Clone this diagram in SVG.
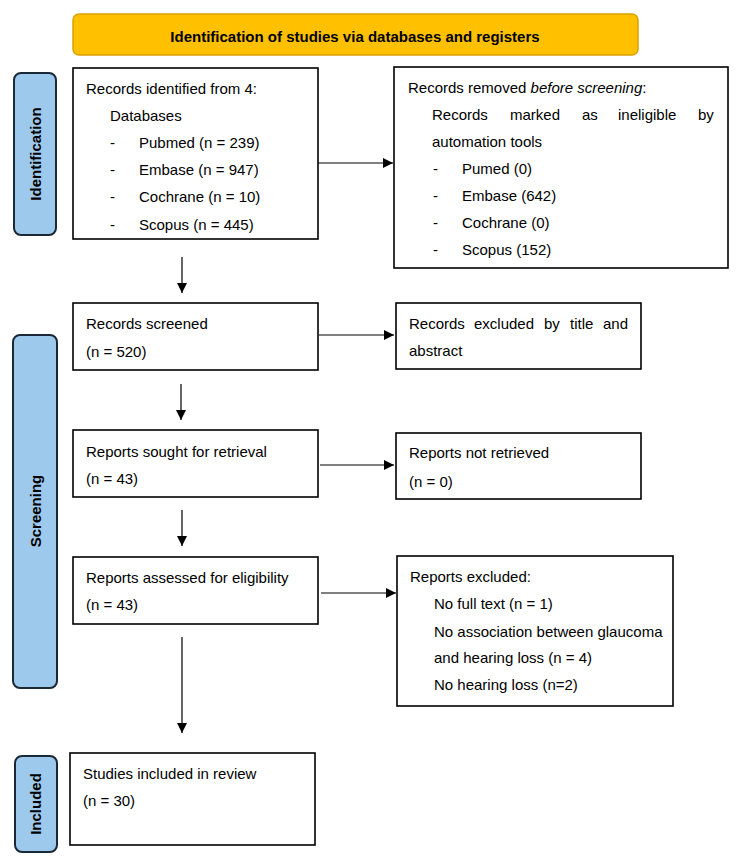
<svg xmlns="http://www.w3.org/2000/svg" width="739" height="864" viewBox="0 0 739 864">
<style>
text{font-family:"Liberation Sans",Arial,sans-serif;font-size:15px;fill:#000}
.b{font-weight:bold}
.box{fill:#fff;stroke:#000;stroke-width:1.6}
.pill{fill:#9DC9EC;stroke:#1B2836;stroke-width:2}
.con{stroke:#000;stroke-width:1.2;fill:none;marker-end:url(#ah)}
</style>
<defs>
<marker id="ah" viewBox="0 0 10 10" refX="10" refY="5" markerWidth="10" markerHeight="10" markerUnits="userSpaceOnUse" orient="auto">
<path d="M0,0 L10,5 L0,10 z" fill="#000"/>
</marker>
</defs>
<rect width="739" height="864" fill="#fff"/>

<g id="banner">
<rect x="73" y="14" width="565" height="41" rx="6" fill="#FFC000" stroke="#D9A300" stroke-width="1.5"/>
<text class="b" x="355" y="42" text-anchor="middle">Identification of studies via databases and registers</text>
</g>

<g id="pill-identification">
<rect class="pill" x="14" y="73" width="42" height="162" rx="7"/>
<text class="b" transform="translate(41,154) rotate(-90)" text-anchor="middle">Identification</text>
</g>
<g id="pill-screening">
<rect class="pill" x="13" y="335" width="44" height="353" rx="7"/>
<text class="b" transform="translate(41,511) rotate(-90)" text-anchor="middle">Screening</text>
</g>
<g id="pill-included">
<rect class="pill" x="15" y="756" width="42" height="96" rx="7"/>
<text class="b" transform="translate(41,804) rotate(-90)" text-anchor="middle">Included</text>
</g>

<g id="records-identified">
<rect class="box" x="73" y="68" width="245" height="171"/>
<text x="86" y="94">Records identified from 4:</text>
<text x="110" y="121">Databases</text>
<text x="110" y="148">-</text><text x="139" y="148">Pubmed (n = 239)</text>
<text x="110" y="175">-</text><text x="139" y="175">Embase (n = 947)</text>
<text x="110" y="202">-</text><text x="139" y="202">Cochrane (n = 10)</text>
<text x="110" y="230">-</text><text x="139" y="230">Scopus (n = 445)</text>
</g>

<g id="records-removed">
<rect class="box" x="394" y="67" width="334" height="201"/>
<text x="408" y="93">Records removed <tspan font-style="italic">before screening</tspan>:</text>
<text y="120"><tspan x="432">Records</tspan><tspan x="510">marked</tspan><tspan x="582">as</tspan><tspan x="618">ineligible</tspan><tspan x="698">by</tspan></text>
<text x="432" y="147">automation tools</text>
<text x="433" y="174">-</text><text x="462" y="174">Pumed (0)</text>
<text x="433" y="201">-</text><text x="462" y="201">Embase (642)</text>
<text x="433" y="228">-</text><text x="462" y="228">Cochrane (0)</text>
<text x="433" y="255">-</text><text x="462" y="255">Scopus (152)</text>
</g>

<g id="records-screened">
<rect class="box" x="73" y="303" width="245" height="67"/>
<text x="86" y="329">Records screened</text>
<text x="86" y="357">(n = 520)</text>
</g>

<g id="records-excluded">
<rect class="box" x="396" y="303" width="245" height="66"/>
<text y="329"><tspan x="409">Records</tspan><tspan x="474">excluded</tspan><tspan x="544">by</tspan><tspan x="570">title</tspan><tspan x="603">and</tspan></text>
<text x="409" y="356">abstract</text>
</g>

<g id="reports-sought">
<rect class="box" x="73" y="430" width="245" height="67"/>
<text x="86" y="457">Reports sought for retrieval</text>
<text x="86" y="484">(n = 43)</text>
</g>

<g id="reports-not-retrieved">
<rect class="box" x="396" y="433" width="245" height="66"/>
<text x="409" y="458">Reports not retrieved</text>
<text x="409" y="487">(n = 0)</text>
</g>

<g id="reports-assessed">
<rect class="box" x="73" y="557" width="245" height="67"/>
<text x="86" y="583">Reports assessed for eligibility</text>
<text x="86" y="610">(n = 43)</text>
</g>

<g id="reports-excluded">
<rect class="box" x="397" y="556" width="276" height="150"/>
<text x="410" y="582">Reports excluded:</text>
<text x="434" y="609">No full text (n = 1)</text>
<text x="434" y="637">No association between glaucoma</text>
<text x="434" y="663">and hearing loss (n = 4)</text>
<text x="434" y="690">No hearing loss (n=2)</text>
</g>

<g id="studies-included">
<rect class="box" x="70" y="753" width="245" height="92"/>
<text x="83" y="779">Studies included in review</text>
<text x="83" y="806">(n = 30)</text>
</g>

<g id="connectors">
<line class="con" x1="318" y1="163" x2="393" y2="163"/>
<line class="con" x1="182" y1="257" x2="182" y2="293"/>
<line class="con" x1="319" y1="335" x2="394" y2="335"/>
<line class="con" x1="181" y1="384" x2="181" y2="420"/>
<line class="con" x1="320" y1="465" x2="394" y2="465"/>
<line class="con" x1="182" y1="510" x2="182" y2="546"/>
<line class="con" x1="321" y1="593" x2="396" y2="593"/>
<line class="con" x1="182" y1="637" x2="182" y2="733"/>
</g>
</svg>
